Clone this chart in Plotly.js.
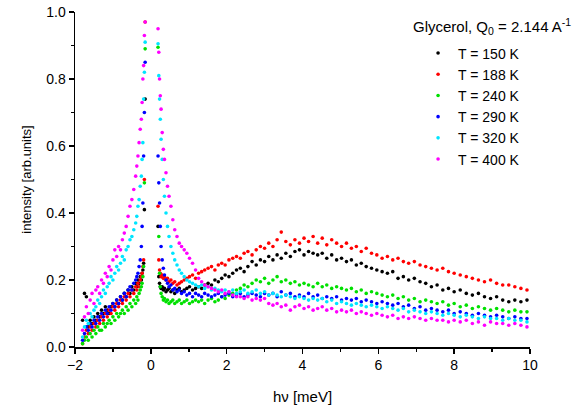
<!DOCTYPE html>
<html>
<head>
<meta charset="utf-8">
<script src="https://cdn.plot.ly/plotly-3.0.1.min.js"></script>
<style>html,body{margin:0;padding:0;background:#fff;}#chart{width:581px;height:410px;}</style>
</head>
<body>
<div id="chart"></div>
<script>
// Energy transfer h-nu [meV] (shared grid, left flank + right side of elastic peak)
const energy = [
-1.80,-1.75,-1.70,-1.65,-1.60,-1.55,-1.50,-1.45,-1.40,-1.35,
-1.30,-1.25,-1.20,-1.15,-1.10,-1.05,-1.00,-0.95,-0.90,-0.85,
-0.80,-0.75,-0.70,-0.65,-0.60,-0.55,-0.50,-0.45,-0.40,-0.37,
-0.34,-0.31,-0.28,-0.25,-0.23,-0.21,-0.19,-0.17,-0.15,
0.19,0.21,0.23,0.25,0.27,0.30,0.33,0.36,0.40,0.44,
0.48,0.53,0.58,0.63,0.69,0.75,0.81,0.88,0.95,1.02,
1.10,1.18,1.26,1.34,1.42,1.51,1.60,1.69,1.78,1.87,
1.96,2.06,2.16,2.26,2.36,2.46,2.56,2.67,2.78,2.89,
3.00,3.11,3.22,3.33,3.44,3.56,3.68,3.80,3.92,4.04,
4.16,4.28,4.40,4.52,4.64,4.77,4.90,5.03,5.16,5.29,
5.42,5.55,5.68,5.82,5.96,6.10,6.24,6.38,6.52,6.66,
6.80,6.95,7.10,7.25,7.40,7.55,7.70,7.85,8.00,8.16,
8.32,8.48,8.64,8.80,8.96,9.12,9.28,9.44,9.60,9.76,
9.92];

const seriesNames = ["T = 150 K","T = 188 K","T = 240 K","T = 290 K","T = 320 K","T = 400 K"];
const seriesColors = ["#000000","#ff0000","#00e000","#0000ff","#00e5ff","#ff00ff"];

const t150 = [
0.08,0.16,0.15,0.06,0.08,0.07,0.09,0.08,0.10,0.09,
0.11,0.10,0.12,0.11,0.10,0.12,0.13,0.12,0.14,0.13,
0.15,0.14,0.16,0.15,0.17,0.16,0.18,0.17,0.19,0.18,
0.20,0.19,0.21,0.20,0.22,0.23,0.25,0.41,0.74,
0.36,0.21,0.19,0.18,0.175,0.18,0.17,0.175,0.165,0.17,
0.175,0.165,0.17,0.16,0.17,0.175,0.165,0.17,0.175,0.18,
0.17,0.175,0.18,0.175,0.185,0.19,0.185,0.20,0.195,0.205,
0.215,0.21,0.22,0.23,0.235,0.225,0.24,0.255,0.245,0.26,
0.255,0.27,0.26,0.275,0.265,0.28,0.27,0.285,0.29,0.275,
0.285,0.28,0.275,0.28,0.265,0.275,0.26,0.265,0.255,0.26,
0.245,0.25,0.24,0.235,0.23,0.225,0.22,0.225,0.205,0.21,
0.20,0.205,0.195,0.19,0.18,0.185,0.17,0.175,0.165,0.17,
0.16,0.155,0.16,0.15,0.145,0.15,0.14,0.135,0.14,0.135,
0.14];

const t188 = [
0.01,0.03,0.05,0.04,0.06,0.05,0.07,0.06,0.08,0.07,
0.09,0.08,0.10,0.09,0.11,0.10,0.12,0.11,0.13,0.12,
0.14,0.13,0.15,0.14,0.16,0.15,0.17,0.16,0.18,0.17,
0.19,0.18,0.20,0.21,0.22,0.24,0.26,0.50,0.97,
0.42,0.26,0.23,0.22,0.21,0.215,0.205,0.21,0.20,0.205,
0.195,0.20,0.19,0.195,0.185,0.19,0.195,0.20,0.205,0.21,
0.215,0.205,0.22,0.225,0.23,0.235,0.24,0.23,0.245,0.25,
0.245,0.26,0.265,0.27,0.265,0.28,0.285,0.275,0.29,0.30,
0.295,0.31,0.30,0.32,0.343,0.315,0.305,0.32,0.31,0.325,
0.315,0.33,0.31,0.325,0.305,0.32,0.31,0.30,0.31,0.295,
0.30,0.285,0.295,0.28,0.275,0.265,0.27,0.26,0.265,0.255,
0.25,0.255,0.245,0.24,0.235,0.23,0.235,0.225,0.22,0.215,
0.21,0.205,0.20,0.195,0.20,0.19,0.185,0.185,0.18,0.175,
0.17];

const t240 = [
0.01,0.02,0.03,0.02,0.04,0.03,0.05,0.04,0.06,0.05,
0.05,0.07,0.06,0.07,0.08,0.07,0.09,0.08,0.10,0.09,
0.10,0.11,0.10,0.12,0.11,0.13,0.12,0.14,0.13,0.15,
0.14,0.16,0.17,0.18,0.19,0.21,0.24,0.49,0.89,
0.895,0.33,0.22,0.18,0.16,0.15,0.14,0.145,0.135,0.14,
0.13,0.135,0.14,0.13,0.135,0.14,0.13,0.135,0.14,0.13,
0.135,0.14,0.135,0.14,0.13,0.14,0.145,0.135,0.14,0.15,
0.145,0.155,0.16,0.17,0.175,0.185,0.18,0.19,0.20,0.195,
0.205,0.19,0.20,0.21,0.195,0.20,0.19,0.195,0.185,0.19,
0.185,0.18,0.19,0.18,0.185,0.175,0.18,0.175,0.17,0.175,
0.165,0.17,0.16,0.165,0.16,0.155,0.15,0.155,0.145,0.15,
0.14,0.145,0.135,0.14,0.135,0.13,0.135,0.125,0.13,0.12,
0.125,0.115,0.12,0.115,0.11,0.115,0.11,0.105,0.11,0.105,
0.105];

const t290 = [
0.02,0.04,0.06,0.05,0.07,0.06,0.08,0.07,0.09,0.08,
0.10,0.09,0.11,0.10,0.12,0.11,0.13,0.12,0.14,0.13,
0.15,0.14,0.16,0.15,0.17,0.18,0.17,0.19,0.20,0.21,
0.22,0.24,0.26,0.30,0.36,0.43,0.57,0.70,0.85,
0.57,0.49,0.43,0.36,0.30,0.26,0.235,0.215,0.20,0.19,
0.18,0.185,0.17,0.175,0.165,0.17,0.16,0.165,0.155,0.16,
0.15,0.16,0.155,0.15,0.16,0.155,0.15,0.155,0.16,0.15,
0.155,0.16,0.15,0.155,0.16,0.15,0.155,0.16,0.155,0.15,
0.16,0.155,0.16,0.15,0.165,0.155,0.16,0.15,0.155,0.15,
0.16,0.15,0.155,0.145,0.15,0.145,0.15,0.14,0.145,0.14,
0.145,0.135,0.14,0.135,0.13,0.135,0.13,0.125,0.13,0.12,
0.125,0.115,0.12,0.11,0.115,0.11,0.105,0.11,0.10,0.105,
0.10,0.095,0.10,0.095,0.09,0.095,0.09,0.085,0.09,0.085,
0.085];

const t320 = [
0.03,0.06,0.08,0.07,0.10,0.09,0.11,0.12,0.14,0.13,
0.15,0.17,0.16,0.18,0.19,0.21,0.20,0.22,0.24,0.23,
0.25,0.27,0.26,0.29,0.30,0.32,0.33,0.35,0.37,0.39,
0.42,0.44,0.48,0.51,0.56,0.61,0.74,0.82,0.91,
0.905,0.81,0.74,0.68,0.62,0.56,0.50,0.45,0.40,0.36,
0.33,0.30,0.28,0.26,0.245,0.23,0.22,0.21,0.20,0.195,
0.19,0.185,0.18,0.185,0.175,0.18,0.17,0.175,0.17,0.165,
0.17,0.165,0.17,0.16,0.165,0.17,0.16,0.165,0.17,0.16,
0.165,0.155,0.16,0.155,0.15,0.155,0.15,0.145,0.15,0.145,
0.14,0.145,0.14,0.145,0.135,0.14,0.13,0.135,0.13,0.125,
0.13,0.125,0.12,0.125,0.12,0.115,0.12,0.115,0.11,0.115,
0.105,0.11,0.105,0.10,0.105,0.10,0.095,0.10,0.095,0.09,
0.095,0.09,0.085,0.09,0.085,0.085,0.08,0.085,0.08,0.08,
0.075];

const t400 = [
0.05,0.09,0.12,0.10,0.14,0.16,0.13,0.17,0.18,0.16,
0.20,0.19,0.22,0.21,0.24,0.23,0.26,0.29,0.27,0.30,
0.29,0.32,0.34,0.36,0.39,0.42,0.44,0.47,0.51,0.54,
0.57,0.61,0.65,0.68,0.73,0.80,0.84,0.93,0.97,
0.95,0.88,0.80,0.75,0.71,0.64,0.59,0.56,0.52,0.48,
0.45,0.42,0.38,0.35,0.33,0.31,0.30,0.29,0.28,0.265,
0.25,0.23,0.205,0.195,0.185,0.18,0.175,0.17,0.165,0.17,
0.16,0.165,0.155,0.15,0.15,0.145,0.15,0.14,0.145,0.14,
0.145,0.13,0.125,0.13,0.12,0.125,0.11,0.12,0.125,0.115,
0.12,0.11,0.115,0.12,0.11,0.115,0.105,0.11,0.105,0.11,
0.10,0.105,0.10,0.095,0.10,0.095,0.09,0.095,0.085,0.09,
0.085,0.09,0.085,0.08,0.085,0.08,0.08,0.075,0.08,0.075,
0.08,0.07,0.075,0.065,0.075,0.07,0.07,0.065,0.07,0.065,
0.06];

const seriesValues = [t150, t188, t240, t290, t320, t400];

const traces = seriesValues.map((vals, i) => ({
  type: 'scatter', mode: 'markers',
  x: energy, y: vals, name: seriesNames[i],
  marker: {color: seriesColors[i], size: 3.6, line: {width: 0}}
}));

const FONT = 'Liberation Sans, Arial, Helvetica, sans-serif';

const layout = {
  width: 581, height: 410,
  margin: {l: 75, r: 51, t: 12, b: 63},
  paper_bgcolor: '#ffffff', plot_bgcolor: '#ffffff',
  font: {family: FONT, color: '#000000', size: 14},
  showlegend: true,
  xaxis: {
    range: [-2, 10], tick0: -2, dtick: 2,
    ticks: 'outside', ticklen: 5, tickwidth: 1.5, tickcolor: '#000',
    minor: {dtick: 1, ticks: 'outside', ticklen: 3, tickwidth: 1.5, tickcolor: '#000', showgrid: false},
    showline: true, linewidth: 1.5, linecolor: '#000',
    showgrid: false, zeroline: false, automargin: false,
    tickfont: {family: FONT, size: 14, color: '#000'},
    title: {text: 'h\u03bd [meV]', font: {family: FONT, size: 15, color: '#000'}, standoff: 19}
  },
  yaxis: {
    range: [0, 1.0], tick0: 0, dtick: 0.2, tickformat: '.1f',
    ticks: 'outside', ticklen: 5, tickwidth: 1.5, tickcolor: '#000',
    minor: {dtick: 0.1, ticks: 'outside', ticklen: 3, tickwidth: 1.5, tickcolor: '#000', showgrid: false},
    showline: true, linewidth: 1.5, linecolor: '#000',
    showgrid: false, zeroline: false, automargin: false,
    tickfont: {family: FONT, size: 14, color: '#000'},
    title: {text: 'intensity [arb.units]', font: {family: FONT, size: 13, color: '#000'}, standoff: 11}
  },
  legend: {
    x: 0.754, xanchor: 'left', y: 0.924, yanchor: 'top',
    bgcolor: 'rgba(0,0,0,0)', borderwidth: 0,
    font: {family: FONT, size: 14, color: '#000'},
    itemsizing: 'trace'
  },
  annotations: [{
    text: 'Glycerol, Q<sub>0</sub> = 2.144 A<sup>-1</sup>',
    xref: 'paper', yref: 'paper', x: 0.739, xanchor: 'left',
    y: 1.0, yanchor: 'middle', yshift: -14, showarrow: false,
    font: {family: FONT, size: 15, color: '#000'}
  }]
};

Plotly.newPlot('chart', traces, layout, {displayModeBar: false, staticPlot: true});
</script>
</body>
</html>
